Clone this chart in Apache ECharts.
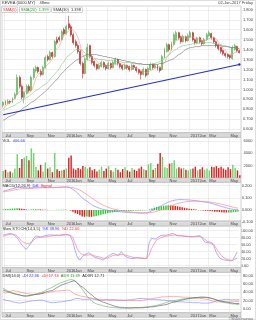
<!DOCTYPE html>
<html><head><meta charset="utf-8">
<script src="https://cdn.jsdelivr.net/npm/echarts@6/dist/echarts.min.js"></script>
<style>html,body{margin:0;padding:0;background:#fff}#c{width:256px;height:320px}</style>
</head><body><div id="c"></div>
<script>
// ---------- DATA ----------
const startDate = '2015-06-26';   // first weekly bar (Friday)
const weekCount = 102;
const monthNames = ['Jan','Feb','Mar','Apr','May','Jun','Jul','Aug','Sep','Oct','Nov','Dec'];
const labelMonths = ['Jan','Mar','May','Jul','Sep','Nov'];

const opens = [0.84,0.87,0.86,0.88,0.87,0.91,0.95,1.12,1.03,0.92, 0.96,1.03,0.99,1.12,1.19,1.22,1.18,1.15,1.22,1.33,
  1.30,1.37,1.33,1.50,1.52,1.50,1.60,1.56,1.66,1.63, 1.55,1.48,1.44,1.38,1.26,1.16,1.30,1.44,1.33,1.28,
  1.25,1.21,1.23,1.27,1.24,1.21,1.26,1.22,1.26,1.30, 1.26,1.24,1.21,1.24,1.23,1.20,1.24,1.22,1.20,1.18,
  1.15,1.20,1.15,1.20,1.25,1.22,1.24,1.22,1.20,1.32, 1.38,1.45,1.40,1.45,1.50,1.57,1.53,1.48,1.53,1.49,
  1.53,1.57,1.50,1.47,1.52,1.49,1.46,1.50,1.54,1.56, 1.52,1.48,1.45,1.42,1.39,1.36,1.35,1.34,1.31,1.40,
  1.43,1.39];
const closes = [0.87,0.86,0.88,0.87,0.91,0.95,1.12,1.03,0.92,0.97, 1.03,0.99,1.12,1.20,1.22,1.18,1.15,1.22,1.32,1.30,
  1.37,1.33,1.48,1.47,1.50,1.58,1.56,1.63,1.62,1.55, 1.47,1.44,1.38,1.26,1.16,1.30,1.42,1.33,1.27,1.24,
  1.21,1.24,1.27,1.23,1.21,1.26,1.22,1.27,1.30,1.26, 1.23,1.21,1.24,1.22,1.20,1.24,1.22,1.19,1.17,1.15,
  1.20,1.14,1.21,1.25,1.22,1.24,1.21,1.19,1.33,1.40, 1.45,1.40,1.46,1.55,1.57,1.52,1.48,1.53,1.49,1.54,
  1.57,1.50,1.47,1.51,1.48,1.46,1.50,1.55,1.57,1.52, 1.48,1.44,1.41,1.38,1.36,1.34,1.33,1.32,1.42,1.44,
  1.39,1.37];
const lows = [0.82,0.84,0.85,0.85,0.86,0.90,0.94,1.01,0.90,0.86, 0.95,0.97,0.98,1.10,1.17,1.16,1.13,1.14,1.21,1.28,
  1.29,1.31,1.32,1.45,1.48,1.49,1.54,1.55,1.60,1.53, 1.45,1.42,1.36,1.24,1.11,1.15,1.29,1.31,1.25,1.22,
  1.19,1.20,1.22,1.21,1.19,1.20,1.20,1.21,1.25,1.24, 1.21,1.19,1.20,1.20,1.18,1.19,1.20,1.17,1.15,1.10,
  1.14,1.12,1.14,1.19,1.20,1.21,1.19,1.17,1.19,1.31, 1.37,1.38,1.39,1.44,1.49,1.50,1.46,1.47,1.47,1.48,
  1.52,1.48,1.45,1.46,1.46,1.44,1.45,1.49,1.53,1.50, 1.46,1.42,1.39,1.36,1.34,1.32,1.31,1.30,1.30,1.39,
  1.37,1.36];
const highs = [0.88,0.89,0.90,0.89,0.92,0.97,1.15,1.14,1.05,0.98, 1.05,1.05,1.14,1.22,1.24,1.23,1.20,1.24,1.34,1.35,
  1.39,1.38,1.50,1.53,1.54,1.60,1.62,1.65,1.74,1.65, 1.57,1.50,1.46,1.40,1.28,1.32,1.46,1.45,1.35,1.29,
  1.26,1.26,1.29,1.28,1.25,1.28,1.27,1.29,1.32,1.31, 1.27,1.25,1.26,1.25,1.24,1.26,1.25,1.23,1.21,1.19,
  1.22,1.21,1.23,1.27,1.26,1.26,1.25,1.23,1.35,1.42, 1.47,1.46,1.48,1.57,1.59,1.58,1.54,1.55,1.54,1.56,
  1.59,1.58,1.51,1.53,1.53,1.50,1.52,1.57,1.59,1.57, 1.53,1.49,1.46,1.43,1.40,1.37,1.36,1.35,1.44,1.46,
  1.44,1.40];

const sma5 = [0.80,0.83,0.85,0.87,0.89,0.91,0.95,0.98,0.99,0.98, 0.98,0.96,0.98,1.04,1.11,1.15,1.17,1.19,1.22,1.25,
  1.27,1.31,1.37,1.41,1.43,1.49,1.54,1.56,1.59,1.61, 1.59,1.57,1.52,1.44,1.35,1.31,1.30,1.29,1.29,1.31,
  1.29,1.26,1.25,1.24,1.23,1.24,1.24,1.24,1.25,1.26, 1.26,1.25,1.25,1.23,1.22,1.22,1.22,1.21,1.20,1.19,
  1.19,1.17,1.17,1.19,1.20,1.21,1.23,1.22,1.24,1.27, 1.32,1.35,1.41,1.45,1.49,1.50,1.52,1.53,1.52,1.51,
  1.52,1.53,1.51,1.52,1.51,1.48,1.48,1.50,1.51,1.52, 1.52,1.51,1.48,1.45,1.41,1.39,1.36,1.35,1.35,1.37,
  1.38,1.39];
const sma20 = [0.79,0.80,0.81,0.82,0.83,0.84,0.86,0.87,0.89,0.90, 0.92,0.93,0.95,0.97,0.99,1.00,1.02,1.04,1.05,1.07,
  1.10,1.13,1.15,1.18,1.21,1.25,1.28,1.32,1.34,1.36, 1.38,1.40,1.40,1.40,1.39,1.36,1.34,1.33,1.32,1.31,
  1.31,1.30,1.30,1.30,1.29,1.29,1.29,1.29,1.28,1.28, 1.28,1.27,1.27,1.27,1.27,1.26,1.26,1.26,1.25,1.25,
  1.25,1.25,1.25,1.25,1.26,1.26,1.27,1.28,1.30,1.31, 1.33,1.35,1.37,1.39,1.40,1.42,1.43,1.44,1.44,1.45,
  1.45,1.46,1.46,1.46,1.47,1.47,1.47,1.47,1.47,1.47, 1.46,1.46,1.45,1.45,1.44,1.44,1.43,1.43,1.42,1.42,
  1.41,1.41];
const sma30 = [0.69,0.70,0.72,0.73,0.74,0.75,0.77,0.78,0.80,0.82, 0.83,0.85,0.87,0.88,0.90,0.92,0.94,0.96,0.98,1.00,
  1.03,1.05,1.08,1.10,1.13,1.16,1.18,1.21,1.23,1.25, 1.27,1.29,1.30,1.32,1.33,1.34,1.35,1.35,1.35,1.35,
  1.35,1.34,1.34,1.33,1.33,1.32,1.32,1.31,1.31,1.30, 1.30,1.29,1.29,1.28,1.28,1.27,1.27,1.26,1.26,1.26,
  1.25,1.25,1.25,1.25,1.25,1.25,1.25,1.26,1.26,1.27, 1.28,1.29,1.30,1.31,1.33,1.35,1.36,1.38,1.40,1.41,
  1.42,1.42,1.43,1.43,1.43,1.44,1.44,1.44,1.44,1.44, 1.44,1.44,1.44,1.44,1.43,1.43,1.43,1.42,1.42,1.42,
  1.41,1.41];
const trendStart = 0.745, trendEnd = 1.25;

const volumes = [1100,1300,900,1000,800,1500,3850,1600,3050,3300, 3550,2850,4800,4050,1740,1200,2100,1000,2500,1500,
  1700,900,4050,1400,1100,1200,1300,1500,3280,3640, 1500,1300,1600,1400,1900,1800,1500,1700,1200,1400,
  1000,1300,1800,1100,1500,1900,1200,1000,1600,1300, 900,1400,1700,1200,1000,1600,1300,1100,1500,1800,
  1400,1200,2200,2400,1300,1600,2300,4040,3380,1700, 1600,2300,2400,2870,1500,1700,1500,1600,1300,1200,
  1400,1500,1800,1200,1400,1700,1300,1500,1200,1800, 1700,1900,1600,1800,1500,1300,1700,1400,2100,1600,
  1200,406.66];

const macdDiff = [0.155,0.16,0.165,0.17,0.175,0.18,0.185,0.187,0.186,0.184, 0.182,0.18,0.182,0.185,0.187,0.188,0.188,0.187,0.186,0.186,
  0.185,0.185,0.186,0.187,0.188,0.189,0.19,0.19,0.188,0.183, 0.17,0.155,0.14,0.12,0.10,0.085,0.075,0.06,0.045,0.035,
  0.025,0.018,0.012,0.006,0.002,-0.002,-0.005,-0.008,-0.01,-0.012, -0.013,-0.015,-0.017,-0.019,-0.02,-0.021,-0.022,-0.023,-0.024,-0.025,
  -0.025,-0.024,-0.022,-0.015,-0.005,0.005,0.015,0.025,0.035,0.045, 0.055,0.065,0.072,0.078,0.082,0.085,0.086,0.086,0.085,0.084,
  0.083,0.081,0.079,0.077,0.074,0.071,0.068,0.065,0.062,0.058, 0.053,0.047,0.042,0.036,0.03,0.024,0.018,0.013,0.009,0.006,
  0.004,0.004];
const macdSignal = [0.15,0.152,0.155,0.158,0.162,0.166,0.17,0.173,0.175,0.176, 0.177,0.177,0.178,0.179,0.18,0.181,0.182,0.183,0.183,0.184,
  0.184,0.184,0.185,0.185,0.186,0.186,0.187,0.188,0.188,0.187, 0.184,0.18,0.172,0.163,0.152,0.14,0.127,0.114,0.1,0.087,
  0.074,0.062,0.051,0.041,0.032,0.024,0.017,0.011,0.006,0.002, -0.002,-0.005,-0.008,-0.011,-0.013,-0.015,-0.017,-0.019,-0.02,-0.021,
  -0.022,-0.023,-0.023,-0.022,-0.019,-0.015,-0.01,-0.004,0.003,0.01, 0.018,0.026,0.034,0.041,0.048,0.054,0.059,0.063,0.066,0.069,
  0.071,0.072,0.073,0.073,0.073,0.072,0.071,0.07,0.068,0.066, 0.063,0.06,0.056,0.052,0.048,0.043,0.038,0.033,0.028,0.023,
  0.019,0.016];
const macdHist = [0.005,0.008,0.010,0.012,0.013,0.014,0.015,0.014,0.011,0.008, 0.005,0.003,0.004,0.006,0.007,0.007,0.006,0.004,0.003,0.002,
  0.001,0.001,0.001,0.002,0.002,0.003,0.003,0.002,0.0,-0.004, -0.014,-0.025,-0.032,-0.043,-0.052,-0.055,-0.052,-0.054,-0.055,-0.052,
  -0.049,-0.044,-0.039,-0.035,-0.03,-0.026,-0.022,-0.019,-0.016,-0.014, -0.011,-0.01,-0.009,-0.008,-0.007,-0.006,-0.005,-0.004,-0.004,-0.004,
  -0.003,-0.001,0.001,0.007,0.014,0.02,0.025,0.029,0.032,0.035, 0.037,0.039,0.038,0.037,0.034,0.031,0.027,0.023,0.019,0.015,
  0.012,0.009,0.006,0.004,0.001,-0.001,-0.003,-0.005,-0.006,-0.008, -0.01,-0.013,-0.014,-0.016,-0.018,-0.019,-0.02,-0.02,-0.019,-0.017,
  -0.015,-0.012];

const stochK = [88,89,91,92,90,86,80,70,60,52, 47,55,64,76,85,84,82,83,86,87, 88,88,87,88,87,88,89,90,88,85,
  70,45,25,16,24,31,34,37,32,26, 23,21,19,16,20,26,30,34,35,30, 30,40,32,26,23,21,21,22,23,22,
  21,20,21,65,78,77,76,82,86,87, 87,88,90,92,90,86,85,85,84,84, 83,83,83,84,85,86,78,68,66,65,
  64,55,38,26,20,17,16,15,14,15, 26,38.96];
const stochD = [84,86,88,90,90,89,86,78,70,66, 64,63,66,72,78,80,81,82,82,83, 84,85,86,86,86,87,87,88,88,87,
  82,65,48,38,33,30,30,31,31,29, 27,26,24,22,21,22,25,28,30,31, 31,32,32,30,28,26,24,23,23,22,
  22,21,21,30,48,60,72,76,80,82, 84,85,86,87,88,87,87,86,85,84, 84,83,83,83,83,83,81,76,70,68,
  66,60,50,40,30,24,20,17,16,15, 18,22.06];

const dmiMinus = [23,21,20,19,17,16,15,14,15,16, 17,18,19,20,20,21,21,21,19,17, 16,15,15,16,17,17,18,19,20,21,
  23,25,25,24,23,23,23,24,24,23, 22,21,21,21,22,22,22,22,22,21, 21,21,20,21,22,22,23,24,25,25,
  25,24,24,23,23,23,22,22,21,21, 20,20,19,18,18,17,17,17,16,16, 16,15,15,15,15,14,14,14,14,15,
  17,19,21,21,22,23,23,22,22,22, 22,22.36];
const dmiPlus = [41,38,40,42,44,43,42,41,39,38, 37,36,35,35,35,36,37,37,38,39, 40,41,42,43,43,44,44,45,45,43,
  37,35,33,31,30,29,28,27,26,25, 24,23,23,22,22,21,21,21,21,21, 21,21,21,21,21,20,20,20,20,20,
  21,22,23,24,25,26,27,28,29,29, 29,30,30,30,30,29,29,28,28,28, 27,27,26,26,25,25,24,23,22,20,
  18,17,17,17,17,17,17,17,17,18, 18,17.74];
const adx = [49,46,43,41,39,36,34,33,32,31, 31,31,32,34,35,37,39,41,44,47, 49,52,55,58,61,63,65,67,69,70,
  69,66,60,53,46,38,30,24,18,15, 12,10,9,7,6,5,4,4,3,3, 2,2,2,2,2,2,3,3,3,4,
  4,5,5,6,7,8,9,11,12,14, 16,18,19,20,21,22,23,24,25,25, 26,26,27,27,28,28,28,27,26,25,
  24,22,20,17,16,15,14,13,12,12, 11,11.49];
const adxr = [45,43,41,39,37,36,35,34,32,31, 31,32,33,34,35,35,36,38,40,42, 43,44,47,51,54,57,59,61,63,65,
  67,66,60,55,52,47,42,37,33,28, 24,21,18,16,14,12,10,8,6,5, 4,4,3,3,3,3,3,3,3,3,
  3,4,4,5,5,6,7,8,9,10, 11,13,15,16,17,19,21,22,23,24, 25,26,27,27,28,28,28,28,27,26,
  24,22,20,19,18,17,16,15,14,13, 13,12.71];

// ---------- BUILD ----------
const dates = [];
for (let k = 0; k < weekCount; k++) {
  const d = new Date(Date.parse(startDate + 'T00:00:00Z') + k * 7 * 86400000);
  dates.push(d.toISOString().slice(0, 10));
}
const monthOf = s => monthNames[+s.slice(5, 7) - 1];
const isTick = (i) => i > 0 && monthOf(dates[i]) !== monthOf(dates[i - 1]) && labelMonths.includes(monthOf(dates[i]));
const tickFmt = (v) => (monthOf(v) === 'Jan' ? v.slice(0, 4) : '') + monthOf(v);

const FONT = '"Liberation Sans Narrow","Liberation Sans",Arial,sans-serif';
const GRID_C = '#e3e3e3';
const L = 2, R = 15;
const frames = [[6, 132.7], [137.3, 177.7], [182.3, 221], [226, 267.7], [272.3, 312.7]];
const bands = [[132.7, 137.3], [177.7, 182.3], [221, 226], [267.7, 272.3], [312.7, 317.3]];
const plots = [[9.8, 129.2], [141, 177.7], [185.7, 222.3], [230.7, 265.7], [275.4, 309]];
const yCfg = [
  { min: 0.6, max: 1.8, interval: 0.1, fmt: v => v.toFixed(3) },
  { min: 0, max: 6000, interval: 2000, fmt: v => v === 0 ? '' : String(v) },
  { min: -0.1, max: 0.2, interval: 0.1, fmt: v => v.toFixed(3) },
  { min: 0, max: 100, interval: 20, fmt: v => v.toFixed(2) },
  { min: 0, max: 80, interval: 20, fmt: v => v.toFixed(2) }
];

const grid = [], xAxis = [], yAxis = [];
frames.forEach((f, k) => {
  grid.push({ left: L, right: R, top: f[0], height: f[1] - f[0], show: true, borderColor: '#aaa', borderWidth: 0.5, backgroundColor: 'transparent' });
  xAxis.push({ type: 'category', gridIndex: k, data: dates, boundaryGap: true, z: 1,
    axisLine: { show: false }, axisTick: { show: false },
    axisLabel: { interval: (i) => isTick(i), formatter: tickFmt, fontSize: 4, color: '#444', align: 'left', margin: 1, fontFamily: FONT },
    splitLine: { show: true, interval: (i) => isTick(i), lineStyle: { color: GRID_C, width: 0.6 } } });
  yAxis.push({ type: 'value', gridIndex: k, show: false, min: 0, max: 1, splitLine: { show: false } });
});
plots.forEach((p, k) => {
  grid.push({ left: L, right: R, top: p[0], height: p[1] - p[0] });
  xAxis.push({ type: 'category', gridIndex: 5 + k, data: dates, boundaryGap: true, show: false });
  const c = yCfg[k];
  yAxis.push({ type: 'value', gridIndex: 5 + k, position: 'right', min: c.min, max: c.max, interval: c.interval,
    axisLine: { show: false }, axisTick: { show: false },
    axisLabel: { fontSize: 4, color: '#444', margin: 2.5, formatter: c.fmt, fontFamily: FONT },
    splitLine: { show: true, lineStyle: { color: GRID_C, width: 0.6 } } });
});

const last = weekCount - 1;
const up = i => closes[i] >= opens[i];
const lineS = (name, data, xi, color, w) => ({ name, type: 'line', xAxisIndex: xi, yAxisIndex: xi, data,
  showSymbol: false, symbol: 'none', lineStyle: { color, width: w || 0.7 }, z: 3 });

const series = [
  { type: 'candlestick', xAxisIndex: 5, yAxisIndex: 5, barWidth: '62%',
    data: opens.map((o, i) => [o, closes[i], lows[i], highs[i]]),
    itemStyle: { color: '#78e478', color0: '#dd1a1a', borderColor: '#2e9e2e', borderColor0: '#a81010', borderWidth: 0.5 },
    markLine: { silent: true, animation: false, symbol: ['none', 'none'],
      data: [
        [{ coord: [0, trendStart], symbol: 'none' }, { coord: [last, trendEnd], symbol: 'circle', symbolSize: 2.5,
          lineStyle: { color: '#2230c8', width: 1.1, type: 'solid' }, label: { show: false } }],
        { yAxis: closes[last], lineStyle: { opacity: 0 },
          label: { show: true, position: 'end', distance: 1, formatter: closes[last].toFixed(3), fontSize: 4, color: '#222',
            backgroundColor: '#f4b0b0', borderColor: '#cc2020', borderWidth: 0.5, padding: [0.5, 1], fontFamily: FONT } }
      ] } },
  lineS('SMA(5)', sma5, 5, '#f29090', 0.6),
  lineS('SMA(20)', sma20, 5, '#7cc87c', 0.6),
  lineS('SMA(30)', sma30, 5, '#707070', 0.6),
  { type: 'bar', xAxisIndex: 6, yAxisIndex: 6, barWidth: '62%',
    data: volumes.map((v, i) => ({ value: v, itemStyle: { color: up(i) ? '#6cd66c' : '#d82424' } })),
    markLine: { silent: true, animation: false, symbol: ['none', 'none'],
      data: [{ yAxis: volumes[last], lineStyle: { opacity: 0 },
        label: { show: true, position: 'end', distance: 1, formatter: String(volumes[last]), fontSize: 4, color: '#222',
          backgroundColor: '#f4f040', borderColor: '#888', borderWidth: 0.5, padding: [0.5, 1], fontFamily: FONT } }] } },
  { type: 'bar', xAxisIndex: 7, yAxisIndex: 7, barWidth: '62%',
    data: macdHist.map((v, i) => ({ value: v, itemStyle: { color: (i === 0 || v >= macdHist[i - 1]) ? '#2ec82e' : '#dd2020' } })) },
  lineS('Diff', macdDiff, 7, '#8a8aff'),
  lineS('Signal', macdSignal, 7, '#ff8a8a'),
  lineS('%K', stochK, 8, '#8a8aff'),
  lineS('%D', stochD, 8, '#ff8080'),
  lineS('-DI', dmiMinus, 9, '#7c7cff', 0.6),
  lineS('+DI', dmiPlus, 9, '#ff7878', 0.6),
  lineS('ADX', adx, 9, '#5cb05c', 0.6),
  lineS('ADXR', adxr, 9, '#555555', 0.6)
];

const rich = {
  k: { color: '#333', fontSize: 4, fontFamily: FONT },
  r: { color: '#e03030', fontSize: 4, fontFamily: FONT },
  g: { color: '#2a9a2a', fontSize: 4, fontFamily: FONT },
  b: { color: '#3a3aee', fontSize: 4, fontFamily: FONT },
  gb: { color: '#2a9a2a', fontSize: 4, fontFamily: FONT, backgroundColor: '#fff', borderColor: '#999', borderWidth: 0.4, padding: [0.5, 1] },
  kb: { color: '#333', fontSize: 4, fontFamily: FONT, backgroundColor: '#fff', borderColor: '#999', borderWidth: 0.4, padding: [0.5, 1] },
  rb: { color: '#e03030', fontSize: 4, fontFamily: FONT, backgroundColor: '#fff', borderColor: '#999', borderWidth: 0.4, padding: [0.5, 1] }
};
const hdr = (left, top, text) => ({ left, top, text, padding: 0, textStyle: { fontSize: 4, fontWeight: 'normal', color: '#333', fontFamily: FONT, rich } });

const title = [
  hdr(2, 1, '{k|KEVEA (0000.MY)}    {k|48mo}'),
  { right: 3, top: 1, text: '02-Jun-2017 Friday', padding: 0, textStyle: { fontSize: 4, fontWeight: 'normal', color: '#444', fontFamily: FONT } },
  hdr(2, 7.3, '{rb|SMA(5)}  {gb|SMA(20)  1.399}  {kb|SMA(30)  1.398}'),
  hdr(2.5, 138.6, '{k|VOL}  {b|406.66}'),
  hdr(2.5, 183.4, '{k|MACD(12,26,9)}  {b|Diff}  {r|Signal}'),
  hdr(2.5, 227.3, '{k|Slow STOCH(14,3,5)}  {b|%K 38.96}  {r|%D 22.06}'),
  hdr(2.5, 273.5, '{k|DMI(14,0)}  {b|-DI 22.36}  {r|+DI 17.74}  {g|ADX 11.49}  {k|ADXR 12.71}'),
  { right: 3, top: 316.6, text: '©ShareInvestor', padding: 0, textStyle: { fontSize: 3.5, fontWeight: 'normal', color: '#666', fontFamily: FONT } }
];

const graphic = bands.map(b => ({ type: 'rect', z: 0, silent: true,
  shape: { x: L, y: b[0], width: 256 - L - R, height: b[1] - b[0] },
  style: { fill: '#d9d9d9', stroke: '#aaa', lineWidth: 0.5 } }));
graphic.push({ type: 'rect', z: 0, silent: true, shape: { x: 0.5, y: 0.5, width: 255, height: 319 },
  style: { fill: 'none', stroke: '#c8c8c8', lineWidth: 0.6 } });

const chart = echarts.init(document.getElementById('c'), null, { renderer: 'canvas' });
chart.setOption({ animation: false, backgroundColor: '#fff', title, grid, xAxis, yAxis, series, graphic });
</script></body></html>
